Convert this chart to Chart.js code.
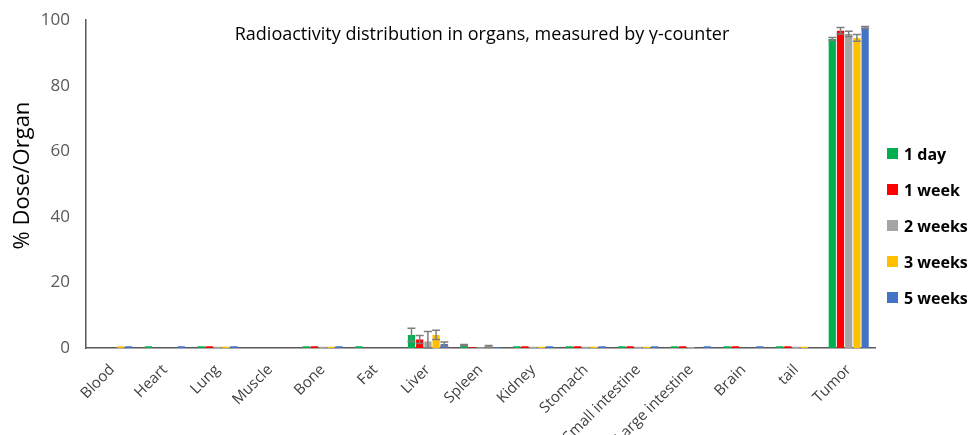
<!DOCTYPE html>
<html>
<head>
<meta charset="utf-8">
<script src="https://cdn.jsdelivr.net/npm/chart.js@4"></script>
<style>
  html, body { margin: 0; padding: 0; background: #fff; }
  #wrap { width: 970px; height: 435px; position: relative; }
  #legend { position: absolute; left: 887px; top: 143px; font: bold 16px "Open Sans", sans-serif; color: #000; }
  #legend .item { height: 36px; display: flex; align-items: flex-start; white-space: nowrap; }
  #legend .box { width: 11px; height: 11px; margin: 5px 6px 0 0; display: inline-block; }
</style>
</head>
<body>
<div id="wrap"><canvas id="organ-chart"></canvas><div id="legend"></div></div>
<script>
const organs = ['Blood', 'Heart', 'Lung', 'Muscle', 'Bone', 'Fat', 'Liver', 'Spleen', 'Kidney',
    'Stomach', 'Small intestine', 'Large intestine', 'Brain', 'tail', 'Tumor'];
const seriesNames = ['1 day', '1 week', '2 weeks', '3 weeks', '5 weeks'];
const seriesColors = ['#00b050', '#ff0000', '#a5a5a5', '#ffc000', '#4472c4'];

// % dose per organ, per time point
const day1   = [0,   0.5, 0.5, 0, 0.5, 0.5, 4.0, 0.9, 0.5, 0.5, 0.5, 0.5, 0.5, 0.5, 94.3];
const week1  = [0,   0,   0.5, 0, 0.5, 0,   2.6, 0.2, 0.5, 0.5, 0.5, 0.5, 0.5, 0.5, 96.8];
const weeks2 = [0,   0,   0.4, 0, 0.4, 0,   2.0, 0.2, 0.4, 0.4, 0.4, 0.3, 0,   0.4, 95.8];
const weeks3 = [0.5, 0,   0.4, 0, 0.4, 0,   4.0, 0.5, 0.4, 0.4, 0.4, 0,   0,   0.4, 94.6];
const weeks5 = [0.5, 0.5, 0.5, 0, 0.5, 0,   1.2, 0.3, 0.5, 0.5, 0.5, 0.5, 0.5, 0,   97.8];

// standard deviations (error bars)
const day1Err   = [0, 0, 0, 0, 0, 0, 2.0, 0.2, 0, 0, 0, 0, 0, 0, 0.4];
const week1Err  = [0, 0, 0, 0, 0, 0, 1.2, 0,   0, 0, 0, 0, 0, 0, 1.0];
const weeks2Err = [0, 0, 0, 0, 0, 0, 3.0, 0,   0, 0, 0, 0, 0, 0, 0.8];
const weeks3Err = [0, 0, 0, 0, 0, 0, 1.4, 0.3, 0, 0, 0, 0, 0, 0, 1.0];
const weeks5Err = [0, 0, 0, 0, 0, 0, 0.6, 0,   0, 0, 0, 0, 0, 0, 0.3];

const seriesValues = [day1, week1, weeks2, weeks3, weeks5];
const seriesErrors = [day1Err, week1Err, weeks2Err, weeks3Err, weeks5Err];

const chartTitle = 'Radioactivity distribution in organs, measured by \u03b3-counter';

const errorBars = {
    id: 'errorBars',
    afterDatasetsDraw(chart) {
        const ctx = chart.ctx;
        const y = chart.scales.y;
        ctx.save();
        ctx.strokeStyle = '#7f7f7f';
        ctx.lineWidth = 1.5;
        chart.data.datasets.forEach((ds, di) => {
            const meta = chart.getDatasetMeta(di);
            ds.errors.forEach((err, i) => {
                if (!err) return;
                const bar = meta.data[i];
                const v = ds.data[i];
                const top = y.getPixelForValue(v + err);
                const bot = y.getPixelForValue(Math.max(0, v - err));
                const half = 4;
                ctx.beginPath();
                ctx.moveTo(bar.x, top);
                ctx.lineTo(bar.x, bot);
                ctx.moveTo(bar.x - half, top);
                ctx.lineTo(bar.x + half, top);
                ctx.moveTo(bar.x - half, bot);
                ctx.lineTo(bar.x + half, bot);
                ctx.stroke();
            });
        });
        ctx.restore();
    }
};

const innerTitle = {
    id: 'innerTitle',
    afterDraw(chart) {
        const ctx = chart.ctx;
        ctx.save();
        ctx.font = '18px "Open Sans", sans-serif';
        ctx.fillStyle = '#000';
        ctx.textAlign = 'center';
        ctx.textBaseline = 'middle';
        ctx.fillText(chartTitle, 482, 35);
        ctx.restore();
    }
};

// html legend on the right
const legendEl = document.getElementById('legend');
seriesNames.forEach((name, i) => {
    const item = document.createElement('div');
    item.className = 'item';
    item.innerHTML = '<span class="box" style="background:' + seriesColors[i] + '"></span>' + name;
    legendEl.appendChild(item);
});

const ctx = document.getElementById('organ-chart').getContext('2d');
new Chart(ctx, {
    type: 'bar',
    data: {
        labels: organs,
        datasets: seriesNames.map((name, i) => ({
            label: name,
            data: seriesValues[i],
            errors: seriesErrors[i],
            backgroundColor: seriesColors[i],
            borderWidth: 0,
            barPercentage: 0.88,
            categoryPercentage: 0.78
        }))
    },
    options: {
        responsive: true,
        maintainAspectRatio: false,
        animation: false,
        layout: { padding: { top: 19, right: 95, left: 4, bottom: 0 } },
        plugins: {
            legend: { display: false },
            tooltip: { enabled: false }
        },
        scales: {
            x: {
                grid: { display: false, drawTicks: false },
                border: { color: '#595959', width: 1.5 },
                afterFit: scale => { scale.height = 87; },
                ticks: {
                    color: '#404040',
                    maxRotation: 45,
                    minRotation: 45,
                    padding: 13,
                    autoSkip: false,
                    font: { family: '"Open Sans", sans-serif', size: 15 }
                }
            },
            y: {
                min: 0,
                max: 100,
                afterFit: scale => { scale.width = 82; },
                ticks: {
                    stepSize: 20,
                    color: '#595959',
                    padding: 10,
                    font: { family: '"Open Sans", sans-serif', size: 17 }
                },
                grid: { display: false, drawTicks: true, tickLength: 6, tickColor: '#595959' },
                border: { color: '#595959', width: 1.5 },
                title: {
                    display: true,
                    text: '   % Dose/Organ',
                    color: '#000',
                    padding: { top: 6, bottom: 0 },
                    font: { family: '"Open Sans", sans-serif', size: 22 }
                }
            }
        }
    },
    plugins: [errorBars, innerTitle]
});
</script>
</body>
</html>
